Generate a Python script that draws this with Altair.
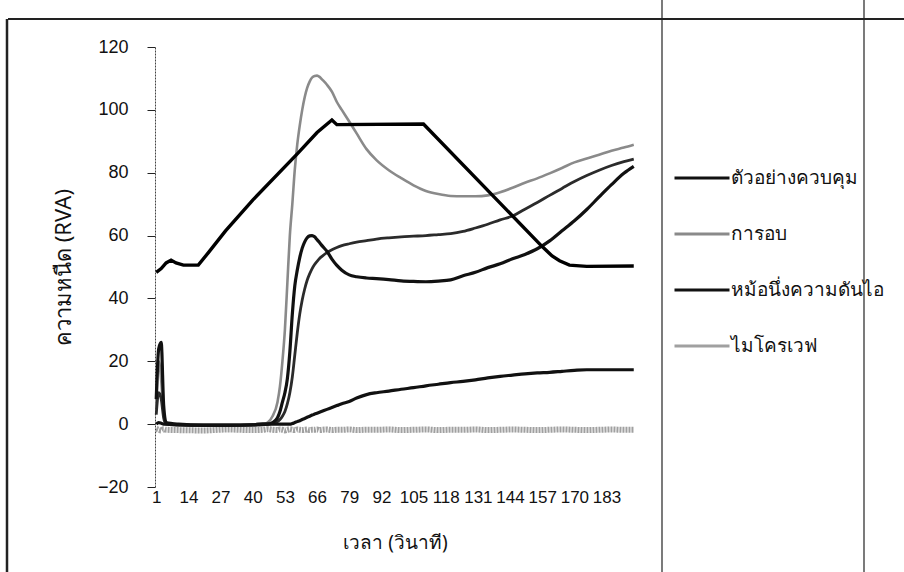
import altair as alt
import pandas as pd

# ---- time points (seconds) for the viscosity curves ----
T = [1, 2, 3, 4, 5, 10, 20, 30, 40, 44, 46, 48, 50, 51, 52, 53, 54, 55, 56, 57,
     58, 59, 60, 61, 62, 63, 64, 65, 66, 67, 68, 70, 72, 74, 76, 79, 82, 86, 90, 95,
     100, 105, 110, 115, 120, 125, 130, 135, 140, 145, 150, 155, 160, 165, 170, 175, 180, 185, 190, 194]

control = [8, 24, 26, 6, 0.5, 0, -0.3, -0.3, -0.2, 0, 0, 0.5, 2, 4, 7, 10, 14.5, 23, 35, 44,
           49, 53, 56, 58, 59.3, 59.9, 60, 59.6, 58.7, 57.8, 56.8, 55, 52.5, 50.5, 49, 47.5, 46.9, 46.5, 46.3, 46,
           45.6, 45.4, 45.3, 45.5, 45.9, 47.2, 48.3, 49.8, 51, 52.6, 54, 55.8, 58.3, 61.5, 64.7, 68.3, 72.3, 76.2, 79.8, 82]

baking = [5, 20, 14, 3, 0.3, -0.3, -0.5, -0.5, -0.3, 0, 0.5, 2.5, 7, 12, 20, 30, 45, 60, 70, 81,
          89, 95, 100, 104, 107, 109, 110.3, 110.8, 110.9, 110.5, 109.7, 108, 105.8, 102.5, 100, 96.3, 92.5, 87.5, 84, 80.8,
          78.3, 76, 74.2, 73.2, 72.6, 72.5, 72.5, 72.8, 73.8, 75.2, 76.8, 78.2, 79.8, 81.5, 83.3, 84.5, 85.7, 87, 88, 88.9]

pressure = [0, 0.5, 0.3, 0, 0, -0.2, -0.3, -0.3, -0.2, 0, 0, 0, 0, 0, 0, 0, 0, 0, 0.2, 0.5,
            0.8, 1.1, 1.5, 1.8, 2.2, 2.5, 2.9, 3.2, 3.5, 3.8, 4.1, 4.7, 5.3, 5.9, 6.5, 7.2, 8.3, 9.4, 10, 10.5,
            11.1, 11.6, 12.2, 12.7, 13.2, 13.6, 14.1, 14.7, 15.2, 15.6, 16, 16.3, 16.5, 16.8, 17.1, 17.3, 17.3, 17.3, 17.3, 17.3]

microwave = [-1.5, -1.8, -2, -1.6, -1.8, -1.9, -2, -1.7, -1.9, -1.8, -1.6, -1.8, -1.9, -1.7, -1.8, -2, -1.8, -1.6, -1.8, -1.9,
             -1.7, -1.8, -1.9, -1.8, -1.7, -1.9, -1.8, -1.8, -1.7, -1.9, -1.8, -1.7, -1.9, -1.8, -1.8, -1.7, -1.9, -1.8, -1.8, -1.7,
             -1.9, -1.8, -1.7, -1.9, -1.8, -1.8, -1.7, -1.9, -1.8, -1.7, -1.8, -1.9, -1.8, -1.7, -1.8, -1.9, -1.8, -1.7, -1.8, -1.8]

sample5 = [3, 10, 8, 2, 0, -0.3, -0.4, -0.4, -0.3, -0.2, 0, 0.2, 0.8, 1.5, 2.5, 4, 6.5, 10, 15, 22,
           29, 35, 39.5, 43, 45.8, 47.8, 49.5, 50.8, 51.8, 52.7, 53.4, 54.6, 55.5, 56.2, 56.8, 57.4, 57.9, 58.4, 58.9, 59.3,
           59.6, 59.8, 60, 60.3, 60.6, 61.3, 62.4, 63.6, 65, 66.2, 68.4, 70.5, 72.8, 75, 77.2, 79.1, 80.8, 82.3, 83.5, 84.3]

# ---- temperature profile ----
temp_t = [1, 3, 5, 7, 9, 12, 18, 22, 29, 40, 58, 66, 72, 74, 109, 157, 161, 164, 168, 175, 194]
temp_v = [48.3, 49.5, 51.3, 52.2, 51.3, 50.6, 50.6, 54.5, 61.5, 71.3, 86, 92.8, 96.8, 95.3, 95.5, 56.5, 53.5, 52, 50.6, 50.2, 50.3]

x_ticks = [1, 14, 27, 40, 53, 66, 79, 92, 105, 118, 131, 144, 157, 170, 183]
y_ticks = [-20, 0, 20, 40, 60, 80, 100, 120]

N_CONTROL = "ตัวอย่างควบคุม"
N_BAKING = "การอบ"
N_PRESSURE = "หม้อนึ่งความดันไอ"
N_MICRO = "ไมโครเวฟ"
N_S5 = "ตัวอย่างที่ 5"
N_TEMP = "อุณหภูมิ"

series = [(N_MICRO, T, microwave), (N_BAKING, T, baking), (N_S5, T, sample5),
          (N_PRESSURE, T, pressure), (N_CONTROL, T, control), (N_TEMP, temp_t, temp_v)]
rows = []
for name, ts, vs in series:
    for t, v in zip(ts, vs):
        rows.append({"t": t, "v": v, "s": name})
df = pd.DataFrame(rows)

domain = [N_CONTROL, N_BAKING, N_PRESSURE, N_MICRO, N_S5, N_TEMP]
colors = ["#111111", "#8a8a8a", "#111111", "#a0a0a0", "#2b2b2b", "#000000"]
style = {  # stroke width, interpolation, dash
    N_MICRO: (6, "monotone", [2, 1]),
    N_BAKING: (2.6, "monotone", None),
    N_S5: (2.8, "monotone", None),
    N_PRESSURE: (3.2, "monotone", None),
    N_CONTROL: (3.2, "monotone", None),
    N_TEMP: (3.4, "linear", None),
}

NUM_FONT = "Liberation Sans, Arial, sans-serif"
THAI_FONT = "Noto Sans, sans-serif"

x_enc = alt.X("t:Q", scale=alt.Scale(domain=[0.5, 194.5], nice=False, zero=False),
              axis=alt.Axis(values=x_ticks, title="เวลา (วินาที)", domain=False, ticks=False, grid=False,
                            labelFont=NUM_FONT, labelFontSize=17, labelPadding=2, labelColor="#111",
                            labelFlush=False, labelOverlap=False,
                            titleFont=THAI_FONT, titleFontSize=19, titleFontWeight="normal", titleColor="#111",
                            titleX=240, titleY=55, titleBaseline="middle", titleAlign="center"))
y_enc = alt.Y("v:Q", scale=alt.Scale(domain=[-20, 120], nice=False, zero=False),
              axis=alt.Axis(values=y_ticks, grid=False, tickSize=8, tickColor="#222", domainColor="#444",
                            domainDash=[2, 1], labelPadding=19, labelFont=NUM_FONT, labelFontSize=18,
                            labelColor="#111", title="ความหนืด (RVA)", titleFont=THAI_FONT, titleFontSize=22,
                            titleFontWeight="normal", titleColor="#111", titleX=-92, titleY=220, titleAngle=270,
                            titleAlign="center", titleBaseline="middle"))
legend = alt.Legend(orient="none", legendX=518, legendY=102, values=domain[:4], title=None,
                    symbolType="stroke", symbolSize=3025, symbolStrokeWidth=3,
                    labelFont=THAI_FONT, labelFontSize=19, labelColor="#111",
                    labelOffset=0, rowPadding=17, labelLimit=400, padding=0)

layers = []
for i, (name, _, _) in enumerate(series):
    w, interp, dash = style[name]
    mk = dict(interpolate=interp, strokeWidth=w)
    if dash:
        mk["strokeDash"] = dash
    layers.append(
        alt.Chart(df).transform_filter(alt.datum.s == name).mark_line(**mk).encode(
            x=x_enc, y=y_enc,
            color=alt.Color("s:N", scale=alt.Scale(domain=domain, range=colors),
                            legend=legend if i == 0 else None),
        )
    )

one = alt.Data(values=[{"a": 1}])
frame_v1 = alt.Chart(one).mark_rule(color="#222", strokeWidth=1.2).encode(
    x=alt.value(507), y=alt.value(-47), y2=alt.value(525))
frame_v2 = alt.Chart(one).mark_rule(color="#222", strokeWidth=1.2).encode(
    x=alt.value(709), y=alt.value(-47), y2=alt.value(525))
frame_h = alt.Chart(one).mark_rule(color="#222", strokeWidth=2).encode(
    x=alt.value(-147), x2=alt.value(749), y=alt.value(-28))
frame_l = alt.Chart(one).mark_rule(color="#222", strokeWidth=2.5).encode(
    x=alt.value(-148), y=alt.value(-28), y2=alt.value(525))

chart = alt.layer(*layers, frame_v1, frame_v2, frame_h, frame_l).properties(
    width=480, height=440,
    autosize=alt.AutoSizeParams(type="none"),
    padding={"left": 155, "top": 47, "right": 269, "bottom": 85},
    background="white",
).configure_view(stroke=None)

chart.save("out.html", embed_options={"renderer": "svg", "actions": False})
